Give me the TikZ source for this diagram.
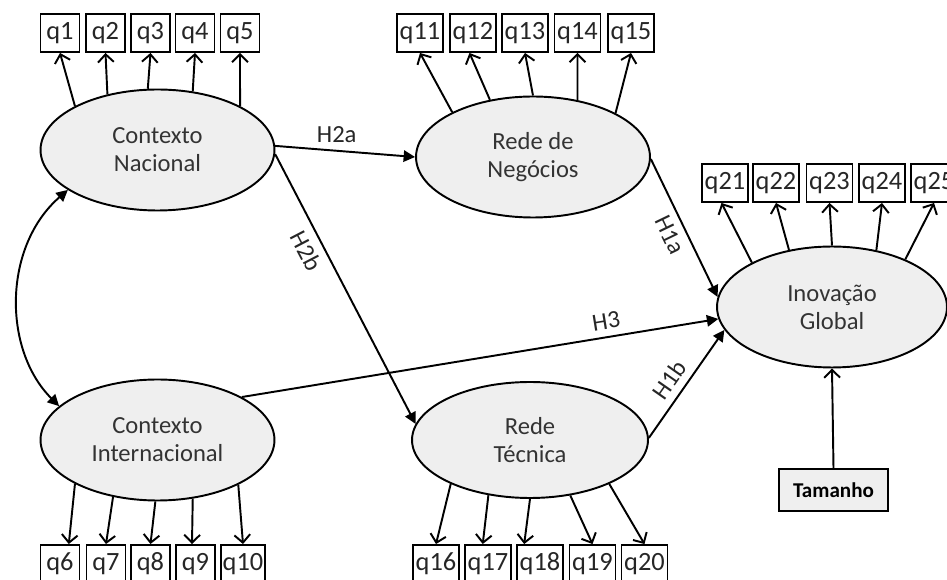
\documentclass[tikz,border=0pt]{standalone}
\usepackage{fontspec}
\setmainfont{Carlito}
\usetikzlibrary{shapes.geometric,arrows.meta}
\definecolor{ellfill}{HTML}{EFEFEF}
\definecolor{ltxt}{HTML}{333333}
\begin{document}
\begin{tikzpicture}[x=0.02cm,y=0.02cm,
  lat/.style={ellipse,draw,line width=1.1pt,fill=ellfill,inner sep=0pt,
    minimum width=4.68cm,minimum height=2.42cm,align=center,
    text=ltxt,font=\fontsize{14}{16}\selectfont},
  ind/.style={draw,line width=1.1pt,fill=white,inner sep=0pt,
    minimum width=0.78cm,minimum height=0.76cm,
    font=\fontsize{15}{17}\selectfont,text=black!85},
  indw/.style={ind,minimum width=0.92cm},
  load/.style={line width=1.1pt,-{Straight Barb[length=4.5pt,width=9pt,line width=1.1pt]}},
  path/.style={line width=1.1pt,-{Triangle[length=6.5pt,width=6.5pt]}},
  lab/.style={font=\fontsize{14}{16}\selectfont,text=black!85,inner sep=4pt}
]
\useasboundingbox (0,0) rectangle (947,-580);
\begin{scope}
\clip (0,0) rectangle (947,-580);
% latent variables
\node[lat] (cn) at (157.5,-150) {Contexto\\Nacional};
\node[lat] (rn) at (533,-157) {Rede de\\Negócios};
\node[lat,minimum width=4.6cm] (ig) at (832,-307) {Inovação\\Global};
\node[lat] (ci) at (157.5,-440) {Contexto\\Internacional};
\node[lat,minimum width=4.72cm,minimum height=2.32cm] (rt) at (530,-440) {Rede\\Técnica};
% indicators top left
\node[ind] (q1) at (60,-33) {q1};
\node[ind] (q2) at (105.5,-33) {q2};
\node[ind] (q3) at (150.5,-33) {q3};
\node[ind] (q4) at (195,-33) {q4};
\node[ind] (q5) at (240,-33) {q5};
% top middle
\node[indw] (q11) at (420,-33) {q11};
\node[indw] (q12) at (473,-33) {q12};
\node[indw] (q13) at (525,-33) {q13};
\node[indw] (q14) at (577.5,-33) {q14};
\node[indw] (q15) at (631,-33) {q15};
% right
\node[indw] (q21) at (725,-183) {q21};
\node[indw] (q22) at (776,-183) {q22};
\node[indw] (q23) at (829.5,-183) {q23};
\node[indw] (q24) at (882,-183) {q24};
\node[indw] (q25) at (934,-183) {q25};
% bottom left
\node[ind] (q6) at (60,-564) {q6};
\node[ind] (q7) at (106,-564) {q7};
\node[ind] (q8) at (150.5,-564) {q8};
\node[ind] (q9) at (195.5,-564) {q9};
\node[ind,minimum width=0.88cm] (q10) at (243,-564) {q10};
% bottom middle
\node[indw] (q16) at (436,-564) {q16};
\node[indw] (q17) at (488,-564) {q17};
\node[indw] (q18) at (540,-564) {q18};
\node[indw] (q19) at (592.5,-564) {q19};
\node[indw] (q20) at (644.5,-564) {q20};
% control variable
\node[draw,line width=1.1pt,fill=ellfill,inner sep=0pt,minimum width=2.18cm,
  minimum height=0.84cm,font=\bfseries\fontsize{12}{14}\selectfont] (tam) at (833.5,-490) {Tamanho};
% loadings
\draw[load] (cn.152) -- (q1.south);
\draw[load] (cn.132.6) -- (q2.south);
\draw[load] (cn.99.9) -- (q3.south);
\draw[load] (cn.59.7) -- (q4.south);
\draw[load] (cn.28) -- (q5.south);
\draw[load] (rn.151.8) -- (q11.south);
\draw[load] (rn.127.8) -- ([xshift=-2]q12.south);
\draw[load] (rn.90) -- (q13.south);
\draw[load] (rn.52.2) -- (q14.south);
\draw[load] (rn.28.2) -- (q15.south);
\draw[load] (ig.151.8) -- ([xshift=-2]q21.south);
\draw[load] (ig.127) -- (q22.south);
\draw[load] (ig.90) -- (q23.south);
\draw[load] (ig.52.8) -- (q24.south);
\draw[load] (ig.33) -- (q25.south);
\draw[load] (ci.208.6) -- ([xshift=5]q6.north);
\draw[load] (ci.232.5) -- (q7.north);
\draw[load] (ci.268) -- (q8.north);
\draw[load] (ci.301.5) -- ([xshift=-2]q9.north);
\draw[load] (ci.331.9) -- (q10.north);
\draw[load] (rt.209) -- (q16.north);
\draw[load] (rt.233.6) -- ([xshift=-3]q17.north);
\draw[load] (rt.270) -- ([xshift=-9]q18.north);
\draw[load] (rt.306.4) -- (q19.north);
\draw[load] (rt.331.6) -- (q20.north);
\draw[load] (tam.north) -- (ig.south);
% structural paths
\draw[path] (cn.2) -- node[lab,pos=0.44,above] {H2a} (rn.west);
\draw[path] (cn.-2) -- node[lab,pos=0.33,sloped,below] {H2b} (rt.172);
\draw[path] (rn.-1) -- node[lab,pos=0.5,sloped,below] {H1a} (ig.175);
\draw[path] (ci.27) -- node[lab,pos=0.77,sloped,above] {H3} (ig.186.5);
\draw[path] (rt.1.5) -- node[lab,pos=0.45,sloped,above] {H1b} (ig.192);
% covariance
\draw[line width=1.1pt,{Triangle[length=6.5pt,width=6.5pt]}-{Triangle[length=6.5pt,width=6.5pt]}]
  (cn.204.5) .. controls +(221:86) and +(135:80) .. (ci.161.6);
\end{scope}
\end{tikzpicture}
\end{document}
